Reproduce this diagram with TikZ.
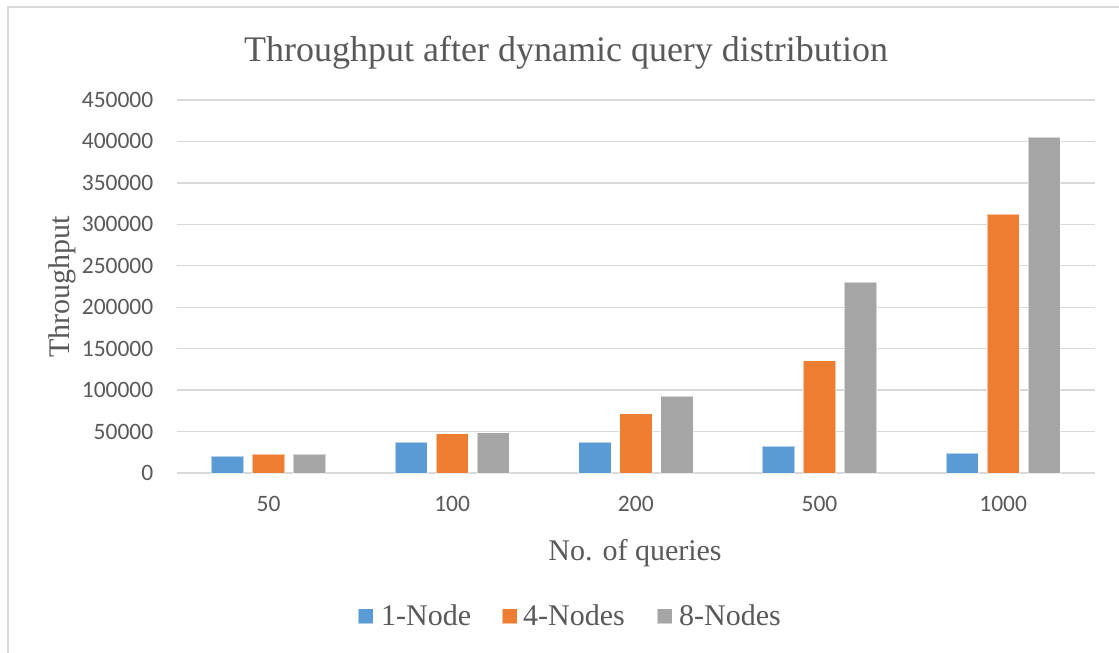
\documentclass[tikz,border=0pt]{standalone}
\usepackage{fontspec}
\setmainfont{Liberation Serif}
\newfontfamily\tickfont{Carlito}
\definecolor{txtgray}{HTML}{595959}
\definecolor{gridgray}{HTML}{D9D9D9}
\definecolor{sOne}{HTML}{5B9BD5}
\definecolor{sFour}{HTML}{ED7D31}
\definecolor{sEight}{HTML}{A5A5A5}
\begin{document}
\begin{tikzpicture}[x=1pt,y=-1pt,
  gridline/.style={draw=gridgray,line width=1.4pt},
  framebox/.style={draw=gridgray,line width=1.2pt},
  bar/.style={draw=white,draw opacity=0.55,line width=0.8pt},
  ticklabel/.style={text=txtgray,font=\tickfont\fontsize{23.5}{26}\selectfont,inner sep=0pt},
  axistitle/.style={text=txtgray,font=\fontsize{30}{34}\selectfont,inner sep=0pt},
  legendtext/.style={text=txtgray,font=\fontsize{30}{34}\selectfont,inner sep=0pt,anchor=base west},
  legendkey/.style={minimum width=15pt,minimum height=15pt,inner sep=0pt,draw=white,draw opacity=0.5}
]
\useasboundingbox (0,0) rectangle (1119,653);
\fill[white] (0,0) rectangle (1119,653);
% chart area frame
\draw[framebox] (8,653) -- (8,7) -- (1119,7);

% title
\node[text=txtgray,font=\fontsize{36}{40}\selectfont,inner sep=0pt,anchor=base] (title) at (566,61) {Throughput after dynamic query distribution};

% horizontal gridlines and value labels (50000 per step)
\foreach \k/\val in {0/0,1/50000,2/100000,3/150000,4/200000,
                     5/250000,6/300000,7/350000,8/400000,9/450000}{
  \pgfmathsetmacro{\gy}{473-41.444*\k}
  \draw[gridline] (176.7,\gy) -- (1095,\gy);
  \node[ticklabel,anchor=east] (tick\k) at (153.5,\gy) {\val};
}

% clustered columns (values in thousands)
\foreach \i/\cat/\a/\b/\c in {0/50/20.5/22.9/22.6,
                               1/100/37.4/47.4/48.6,
                               2/200/37.4/71.5/92.9,
                               3/500/32.2/135.5/230.4,
                               4/1000/24.2/312.1/405.0}{
  \pgfmathsetmacro{\cx}{176.7+183.66*(\i+0.5)}
  \pgfmathsetmacro{\ha}{473-\a/1.20645}
  \pgfmathsetmacro{\hb}{473-\b/1.20645}
  \pgfmathsetmacro{\hc}{473-\c/1.20645}
  \fill[sOne,bar]   (\cx-41-16.25,473) rectangle (\cx-41+16.25,\ha);
  \fill[sFour,bar]  (\cx-16.25,473) rectangle (\cx+16.25,\hb);
  \fill[sEight,bar] (\cx+41-16.25,473) rectangle (\cx+41+16.25,\hc);
  \node[ticklabel] (cat\i) at (\cx,504) {\cat};
}

% axis titles
\node[axistitle,rotate=90,anchor=base] (ytitle) at (69,287) {Throughput};
\node[axistitle,anchor=base] (xtitle) at (635,560) {No. of queries};

% legend
\node[legendkey,fill=sOne] (key1) at (365.5,616) {};
\node[legendtext] (lab1) at (381,625) {1-Node};
\node[legendkey,fill=sFour] (key4) at (509.5,616) {};
\node[legendtext] (lab4) at (523,625) {4-Nodes};
\node[legendkey,fill=sEight] (key8) at (664.5,616) {};
\node[legendtext] (lab8) at (679,625) {8-Nodes};
\end{tikzpicture}
\end{document}
